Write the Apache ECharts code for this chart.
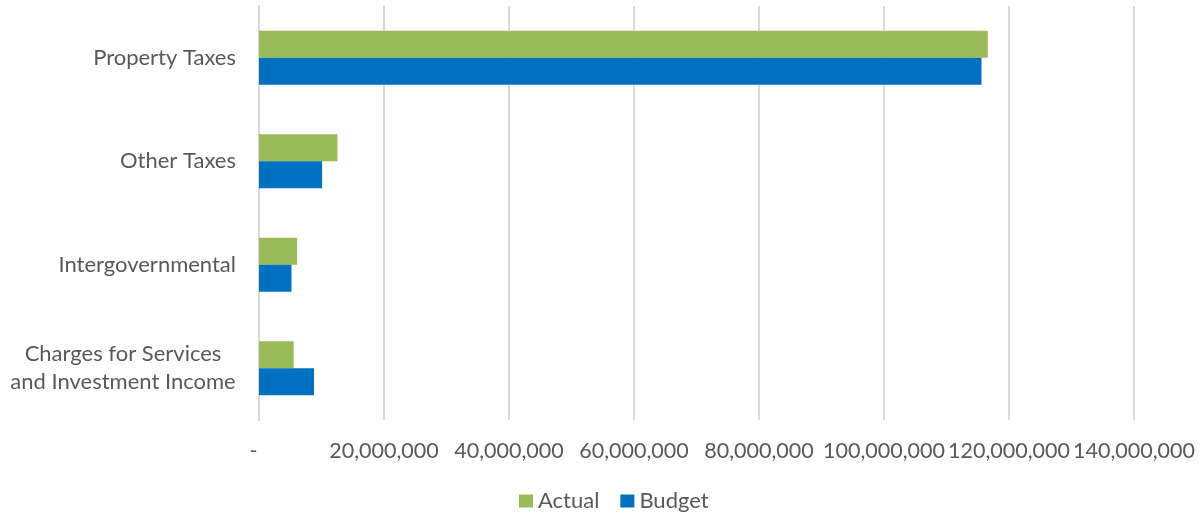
<!DOCTYPE html>
<html>
<head>
<meta charset="utf-8">
<script src="https://cdn.jsdelivr.net/npm/echarts@6/dist/echarts.min.js"></script>
<style>
html,body{margin:0;padding:0;background:#fff;}
#chart{width:1201px;height:519px;}
</style>
</head>
<body>
<div id="chart"></div>
<script>
const categories = ['Charges for Services\nand Investment Income', 'Intergovernmental', 'Other Taxes', 'Property Taxes'];
const actualValues = [5550000, 6100000, 12550000, 116600000];
const budgetValues = [8800000, 5200000, 10100000, 115600000];
const xTicks = { min: 0, max: 140000000, interval: 20000000 };

const FONT = 'Lato';
const TEXT = '#595959';

const categoryData = categories.map(function (c) {
  if (c.indexOf('\n') >= 0) {
    return { value: c, textStyle: { align: 'center', padding: [0, 226, 0, 0] } };
  }
  return c;
});

const chart = echarts.init(document.getElementById('chart'));
chart.setOption({
  animation: false,
  textStyle: { fontFamily: FONT },
  grid: { left: 259, right: 67, top: 6, bottom: 99 },
  legend: {
    bottom: 7,
    left: 519,
    padding: 0,
    itemWidth: 14,
    itemHeight: 13,
    itemGap: 21,
    icon: 'rect',
    textStyle: { color: TEXT, fontSize: 22, fontFamily: FONT },
    data: ['Actual', 'Budget']
  },
  xAxis: {
    type: 'value',
    min: xTicks.min,
    max: xTicks.max,
    interval: xTicks.interval,
    axisLine: { show: false },
    axisTick: { show: false },
    splitLine: { lineStyle: { color: '#D9D9D9', width: 2 } },
    axisLabel: {
      color: TEXT,
      fontSize: 21.5,
      fontFamily: FONT,
      margin: 20,
      formatter: function (v) {
        return v === 0 ? '-  ' : v.toLocaleString('en-US');
      }
    }
  },
  yAxis: {
    type: 'category',
    data: categoryData,
    axisLine: { show: true, lineStyle: { color: '#D9D9D9', width: 2 } },
    axisTick: { show: false },
    axisLabel: {
      color: TEXT,
      fontSize: 22,
      fontFamily: FONT,
      margin: 23,
      align: 'right',
      lineHeight: 28
    }
  },
  series: [
    {
      name: 'Actual',
      type: 'bar',
      data: actualValues,
      barWidth: 27,
      barGap: '0%',
      itemStyle: { color: '#9BBB59' }
    },
    {
      name: 'Budget',
      type: 'bar',
      data: budgetValues,
      barWidth: 27,
      barGap: '0%',
      itemStyle: { color: '#0070C0' }
    }
  ]
});
</script>
</body>
</html>
